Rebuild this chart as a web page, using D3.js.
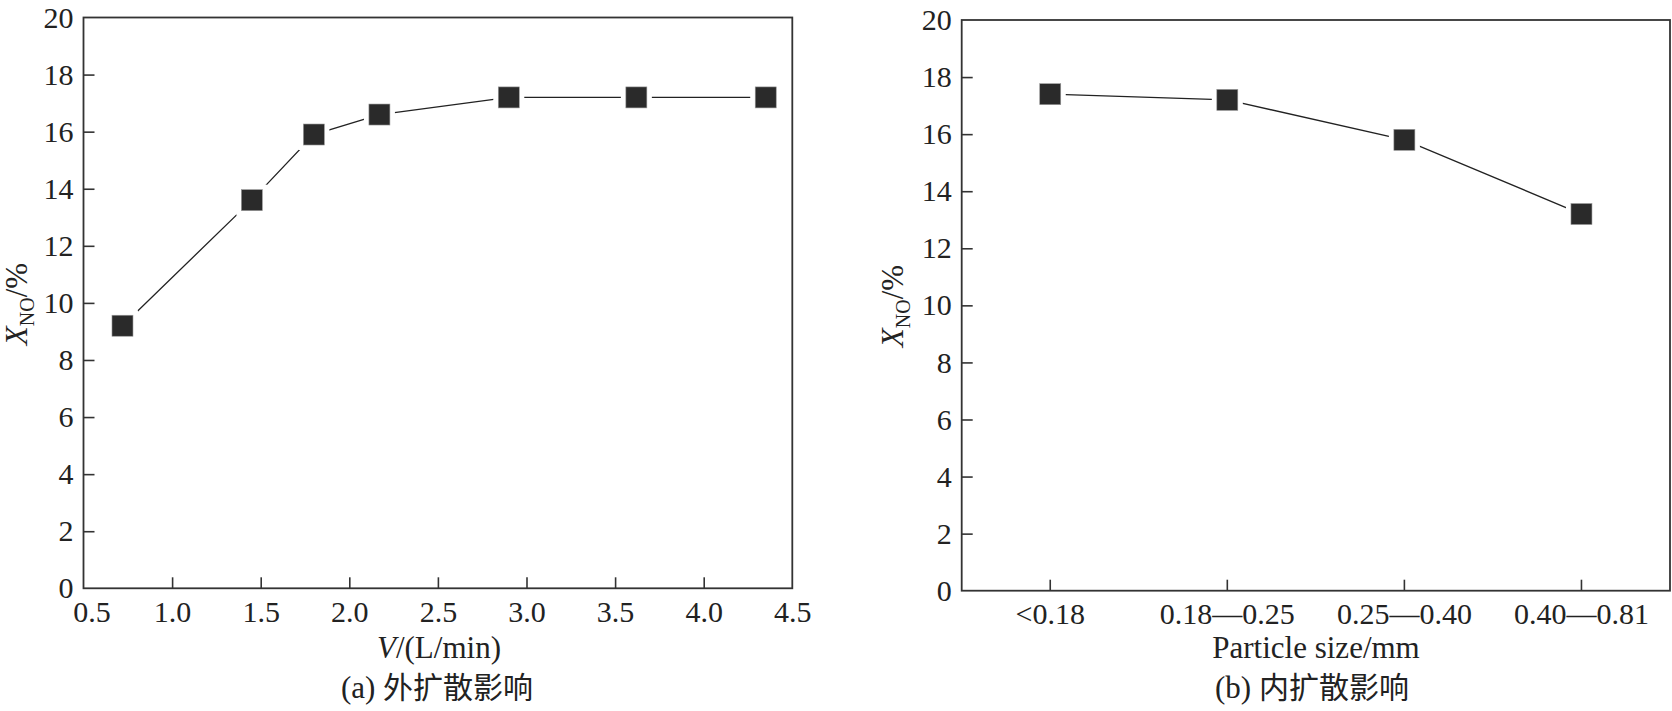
<!DOCTYPE html>
<html>
<head>
<meta charset="utf-8">
<script src="https://cdn.jsdelivr.net/npm/d3@7"></script>
<style>
  html, body { margin: 0; padding: 0; background: #fff; }
  svg { display: block; }
  text { font-family: "Liberation Serif", "Times New Roman", serif; fill: #222; }
</style>
</head>
<body>
<script>
// ---- data ----
const flowRates = [0.72, 1.45, 1.80, 2.17, 2.90, 3.62, 4.35];
const xnoFlow   = [9.2, 13.6, 15.9, 16.6, 17.2, 17.2, 17.2];
const flowTicks = [0.5, 1.0, 1.5, 2.0, 2.5, 3.0, 3.5, 4.0, 4.5];

const sizeCategories = ["<0.18", "0.18\u20140.25", "0.25\u20140.40", "0.40\u20140.81"];
const xnoSize        = [17.4, 17.2, 15.8, 13.2];

const yTicks = [0, 2, 4, 6, 8, 10, 12, 14, 16, 18, 20];

const W = 1672, H = 711;
const svg = d3.select("body").append("svg").attr("width", W).attr("height", H);

const axisColor = "#333";
const markColor = "#2a2a2a";
const mSize = 21;
const tickFont = "30px";
const titleFont = "31px";

function yLabel(g, x, y) {
  const t = g.append("text")
    .attr("transform", `translate(${x},${y}) rotate(-90)`)
    .attr("text-anchor", "middle")
    .style("font-size", titleFont);
  t.append("tspan").style("font-style", "italic").text("X");
  t.append("tspan").attr("dy", 7).style("font-size", "20px").text("NO");
  t.append("tspan").attr("dy", -7).text("/%");
}

function frame(g, x0, x1, y0, y1) {
  g.append("rect").attr("x", x0).attr("y", y0).attr("width", x1 - x0).attr("height", y1 - y0)
    .attr("fill", "none").attr("stroke", axisColor).attr("stroke-width", 1.8);
}

function styleTicks(a) {
  a.select(".domain").remove();
  a.selectAll("line").attr("stroke", axisColor).attr("stroke-width", 1.6);
  a.selectAll("text").style("font-size", tickFont).attr("fill", "#222")
    .style("font-family", "'Liberation Serif', serif");
}

function drawYAxis(g, y, x0) {
  const ax = d3.axisLeft(y).tickValues(yTicks).tickSizeInner(-11).tickSizeOuter(0).tickPadding(10);
  const a = g.append("g").attr("transform", `translate(${x0},0)`).call(ax);
  styleTicks(a);
  a.selectAll(".tick").filter(d => d === 0 || d === 20).select("line").remove();
}

function drawSeries(g, pts, color) {
  const line = d3.line().x(d => d[0]).y(d => d[1]);
  g.append("path").attr("d", line(pts)).attr("fill", "none")
    .attr("stroke", "#222").attr("stroke-width", 1.3);
  g.selectAll(null).data(pts).enter().append("rect")
    .attr("x", d => d[0] - mSize / 2 - 5).attr("y", d => d[1] - mSize / 2 - 5)
    .attr("width", mSize + 10).attr("height", mSize + 10).attr("fill", "#fff");
  g.selectAll(null).data(pts).enter().append("rect")
    .attr("x", d => d[0] - mSize / 2).attr("y", d => d[1] - mSize / 2)
    .attr("width", mSize).attr("height", mSize)
    .attr("fill", color).attr("stroke", "#999").attr("stroke-width", 0.6);
}

// ---- panel (a) ----
{
  const x0 = 83.5, x1 = 792.3, y0 = 17.5, y1 = 588.3;
  const g = svg.append("g");
  const x = d3.scaleLinear().domain([0.5, 4.5]).range([x0, x1]);
  const y = d3.scaleLinear().domain([0, 20]).range([y1, y0]);
  frame(g, x0, x1, y0, y1);
  drawYAxis(g, y, x0);
  const ax = d3.axisBottom(x).tickValues(flowTicks).tickFormat(d3.format(".1f"))
    .tickSizeInner(-11).tickSizeOuter(0).tickPadding(12);
  const a = g.append("g").attr("transform", `translate(0,${y1})`).call(ax);
  styleTicks(a);
  a.selectAll(".tick").filter(d => d === 0.5 || d === 4.5).select("line").remove();
  a.selectAll(".tick").filter(d => d === 0.5).select("text").attr("dx", 8);

  drawSeries(g, flowRates.map((v, i) => [x(v), y(xnoFlow[i])]), markColor);

  const t = g.append("text").attr("x", 439).attr("y", 658).attr("text-anchor", "middle")
    .style("font-size", titleFont);
  t.append("tspan").style("font-style", "italic").text("V");
  t.append("tspan").text("/(L/min)");
  const c = g.append("text").attr("x", 437).attr("y", 698).attr("text-anchor", "middle")
    .style("font-size", titleFont);
  c.append("tspan").text("(a) ");
  c.append("tspan").style("font-family", "'Noto Sans CJK SC', sans-serif")
    .style("font-size", "30px").text("外扩散影响");
  yLabel(g, 27, 304);
}

// ---- panel (b) ----
{
  const x0 = 961.7, x1 = 1670, y0 = 20, y1 = 590.7;
  const g = svg.append("g");
  const x = d3.scaleBand().domain(sizeCategories).range([x0, x1]);
  const y = d3.scaleLinear().domain([0, 20]).range([y1, y0]);
  frame(g, x0, x1, y0, y1);
  drawYAxis(g, y, x0);
  const ax = d3.axisBottom(x).tickSizeInner(-11).tickSizeOuter(0).tickPadding(12);
  const a = g.append("g").attr("transform", `translate(0,${y1})`).call(ax);
  styleTicks(a);

  drawSeries(g, sizeCategories.map((c, i) => [x(c) + x.bandwidth() / 2, y(xnoSize[i])]), markColor);

  g.append("text").attr("x", 1316).attr("y", 658).attr("text-anchor", "middle")
    .style("font-size", titleFont).text("Particle size/mm");
  const c = g.append("text").attr("x", 1312).attr("y", 698).attr("text-anchor", "middle")
    .style("font-size", titleFont);
  c.append("tspan").text("(b) ");
  c.append("tspan").style("font-family", "'Noto Sans CJK SC', sans-serif")
    .style("font-size", "30px").text("内扩散影响");
  yLabel(g, 903, 306);
}
</script>
</body>
</html>
